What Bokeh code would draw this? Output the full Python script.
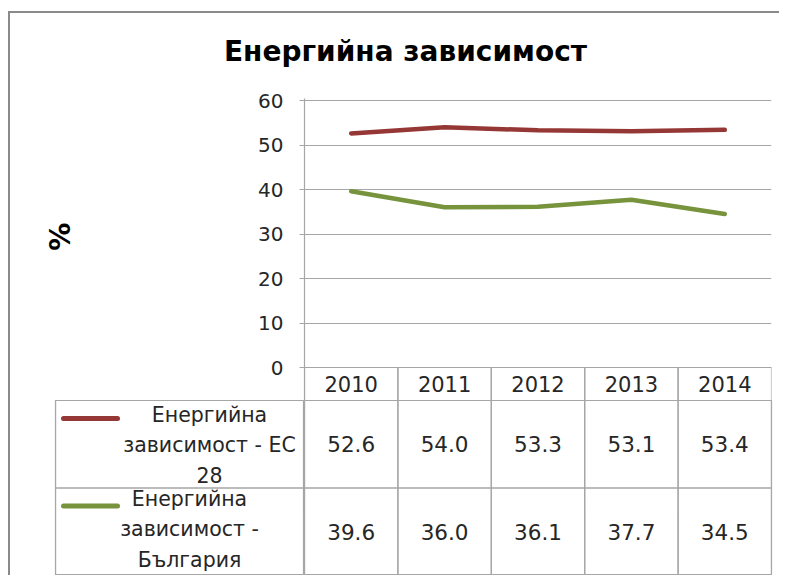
import math
from bokeh.plotting import figure
from bokeh.models import Range1d, FactorRange, FixedTicker
from bokeh.layouts import column, row
from bokeh.embed import file_html
from bokeh.resources import INLINE
from bokeh.core.properties import value

# ---------------- data ----------------
title_text = "Енергийна зависимост"
y_axis_text = "%"
years = ["2010", "2011", "2012", "2013", "2014"]
y_ticks = [0, 10, 20, 30, 40, 50, 60]
eu_name = "Енергийна зависимост - ЕС 28"
bg_name = "Енергийна зависимост - България"
eu_label_lines = ["Енергийна", "зависимост - ЕС", "28"]
bg_label_lines = ["Енергийна", "зависимост -", "България"]
eu_values = [52.6, 54.0, 53.3, 53.1, 53.4]
bg_values = [39.6, 36.0, 36.1, 37.7, 34.5]

# ---------------- style ----------------
RED = "#953735"
GREEN = "#77933C"
GRID = "#a6a6a6"
BORDER = "#8a8a8a"
TXT = "#262626"
FONT = "DejaVu Sans"

Y_MAX = 60
PX_PER_UNIT = 267 / 60.0       # plot area 267px tall for 0..60
HEADER_PX = 33                  # header row (years) height
TOP_PAD_PX = 2
header_units = HEADER_PX / PX_PER_UNIT
top_pad_units = TOP_PAD_PX / PX_PER_UNIT

TOTAL_W = 769
TITLE_H = 70
CHART_H = 317
PCT_W = 100
TABLE_H = 175


def blank(width, height, **kw):
    f = figure(width=width, height=height, x_axis_location=None, y_axis_location=None,
               min_border_left=0, min_border_right=0, min_border_top=0, min_border_bottom=0,
               toolbar_location=None, output_backend="svg", **kw)
    f.grid.visible = False
    f.outline_line_color = None
    return f


# ---------------- title strip ----------------
tf = blank(TOTAL_W, TITLE_H, x_range=Range1d(0, TOTAL_W), y_range=Range1d(TITLE_H, 0))
tf.text(x=[395], y=[38], text=[title_text], text_align="center",
        text_baseline="alphabetic", text_font=value(FONT), text_font_style="bold",
        text_font_size="28px", text_color="black")

# ---------------- "%" strip ----------------
pf = blank(PCT_W, CHART_H, x_range=Range1d(0, PCT_W), y_range=Range1d(CHART_H, 0))
pf.text(x=[50], y=[145], text=[y_axis_text], angle=math.pi / 2, text_align="center",
        text_baseline="middle", text_font=value(FONT), text_font_style="bold",
        text_font_size="28px", text_color="black")

# ---------------- chart ----------------
xr = FactorRange(factors=years)
p = figure(width=TOTAL_W - PCT_W, height=CHART_H, x_range=xr,
           y_range=Range1d(-header_units, Y_MAX + top_pad_units),
           x_axis_location=None, y_axis_location="left",
           min_border_left=194, min_border_right=8,
           min_border_top=15, min_border_bottom=0,
           toolbar_location=None, output_backend="svg")
p.outline_line_color = None
p.xgrid.visible = False
p.ygrid.grid_line_color = GRID
p.ygrid.grid_line_width = 1.2
p.yaxis.ticker = FixedTicker(ticks=y_ticks)
p.yaxis.axis_line_color = GRID
p.yaxis.axis_line_width = 1.2
p.yaxis.major_tick_line_color = GRID
p.yaxis.major_tick_out = 5
p.yaxis.major_tick_in = 0
p.yaxis.minor_tick_line_color = None
p.yaxis.major_label_standoff = 16
p.yaxis.major_label_text_font = FONT
p.yaxis.major_label_text_font_size = "20px"
p.yaxis.major_label_text_color = TXT

p.line(years, eu_values, line_color=RED, line_width=4.5, line_cap="round", line_join="round")
p.line(years, bg_values, line_color=GREEN, line_width=4.5, line_cap="round", line_join="round")

# header row of the data table (years)
p.rect(x=years, y=-header_units / 2, width=1, height=header_units,
       fill_color=None, line_color=GRID, line_width=1.2)
p.text(x=years, y=-header_units / 2, text=years, text_align="center",
       text_baseline="middle", text_font=value(FONT), text_font_size="21px",
       text_color=TXT)

# ---------------- data table ----------------
yr = FactorRange(factors=[bg_name, eu_name])

t = figure(width=475, height=TABLE_H, x_range=xr, y_range=yr,
           x_axis_location=None, y_axis_location=None,
           min_border_left=0, min_border_right=8, min_border_top=0, min_border_bottom=0,
           toolbar_location=None, output_backend="svg")
t.grid.visible = False
t.outline_line_color = GRID
t.outline_line_width = 1.2
for name, vals in [(eu_name, eu_values), (bg_name, bg_values)]:
    t.rect(x=years, y=[name] * len(years), width=1, height=1,
           fill_color=None, line_color=GRID, line_width=1.2)
    t.text(x=years, y=[name] * len(years), text=[f"{v:.1f}" for v in vals],
           text_align="center", text_baseline="middle", text_font=value(FONT),
           text_font_size="21.5px", text_color=TXT)

lf = figure(width=294, height=TABLE_H, x_range=Range1d(0, 249), y_range=yr,
            x_axis_location=None, y_axis_location=None,
            min_border_left=45, min_border_right=0, min_border_top=0, min_border_bottom=0,
            toolbar_location=None, output_backend="svg")
lf.grid.visible = False
lf.outline_line_color = GRID
lf.outline_line_width = 1.2
lf.rect(x=124.5, y=[eu_name, bg_name], width=249, height=1,
        fill_color=None, line_color=GRID, line_width=1.2)
KEY_OFF = 0.295
lf.segment(x0=[8, 8], x1=[62, 62], y0=[(eu_name, KEY_OFF), (bg_name, KEY_OFF)],
           y1=[(eu_name, KEY_OFF), (bg_name, KEY_OFF)],
           line_color=[RED, GREEN], line_width=5, line_cap="round")
lf.text(x=[154, 134], y=[(eu_name, -0.01), (bg_name, 0.03)],
        text=["\n".join(eu_label_lines), "\n".join(bg_label_lines)],
        text_align="center", text_baseline="middle", text_font=value(FONT),
        text_font_size="20.5px", text_color=TXT, text_line_height=1.27)

layout = column(tf, row(pf, p), row(lf, t), margin=(11, 0, 0, 8),
                styles={"border-top": f"2px solid {BORDER}", "border-left": f"2px solid {BORDER}"})

open("out.html", "w").write(file_html(layout, INLINE))
